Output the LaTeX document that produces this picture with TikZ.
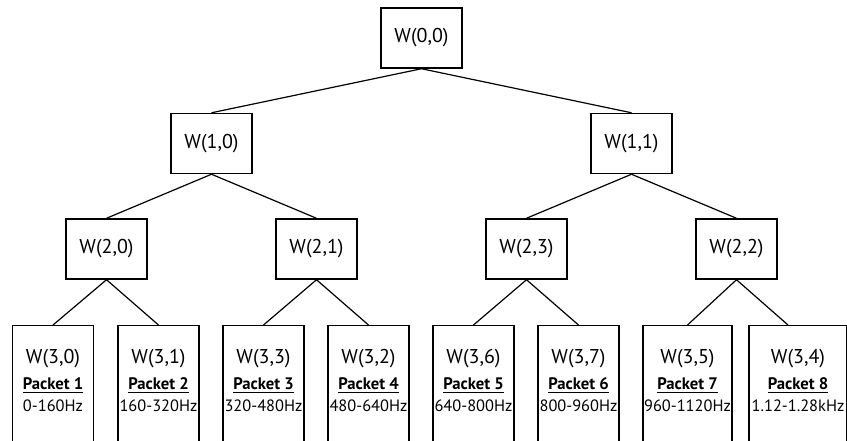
\documentclass[tikz,border=0pt]{standalone}
\usepackage{fontspec}
\setmainfont{PT Sans}
\newcommand{\leaftext}[3]{\begin{tabular}[t]{@{}c@{}}#1\\[2pt]\fontsize{12.5}{15}\selectfont\textbf{\underline{Packet #2}}\\[-2pt]\fontsize{12.3}{15}\selectfont #3\end{tabular}}

\begin{document}
\begin{tikzpicture}[
    x=0.75pt, y=-0.75pt,
    wbox/.style={draw, line width=1.1pt, minimum width=60.75pt, minimum height=45pt, inner sep=0pt, font=\fontsize{15}{18}\selectfont},
    leafbox/.style={draw, line width=1.1pt, anchor=north, inner xsep=0pt, inner ysep=0pt, text height=28pt, text depth=120pt, font=\fontsize{15}{18}\selectfont},
    branch/.style={line width=0.9pt}
    ]
    \clip (0,0) rectangle (847,440);

    % root and inner nodes
    \node[wbox] (w00) at (421.5, 38) {W(0,0)};
    \node[wbox] (w10) at (211.5, 143.5) {W(1,0)};
    \node[wbox] (w11) at (631.5, 143.5) {W(1,1)};
    \node[wbox] (w20) at (106.5, 249) {W(2,0)};
    \node[wbox] (w21) at (316.5, 249) {W(2,1)};
    \node[wbox] (w23) at (526.5, 249) {W(2,3)};
    \node[wbox] (w22) at (736.5, 249) {W(2,2)};

    % packets
    \foreach \k/\x/\w/\p/\f in {0/53/81/1/0-160Hz, 1/158.5/81/2/160-320Hz, 3/263.5/81/3/320-480Hz, 2/368.5/81/4/480-640Hz,
        6/473.5/81/5/640-800Hz, 7/578.5/81/6/800-960Hz, 5/687.5/89/7/960-1120Hz, 4/798/98/8/1.12-1.28kHz}
    \node[leafbox, minimum width=\w*0.75pt] (w3\k) at (\x, 325) {\leaftext{W(3,\k)}{\p}{\f}};

    % branches
    \foreach \a/\b in {w00/w10, w00/w11, w10/w20, w10/w21, w11/w23, w11/w22,
        w20/w30, w20/w31, w21/w33, w21/w32, w23/w36, w23/w37, w22/w35}
    \draw[branch] (\a.south) -- (\b.north);
    \draw[branch] (w22.south) -- ([xshift=-7.5pt]w34.north);
\end{tikzpicture}
\end{document}
